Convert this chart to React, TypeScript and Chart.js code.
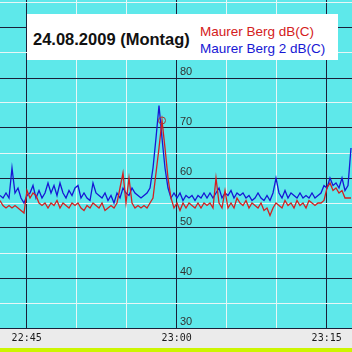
import React, { useEffect, useRef } from "react";
import { Chart, registerables } from "chart.js";

Chart.register(...registerables);

// minutes after 22:00
const START_MIN = 42 + 1 / 3;
const STEP_MIN = 0.3;
const X_MIN = 42 + 1 / 3;
const X_MAX = 42 + 1 / 3 + 35.2;

const redLabel = "Maurer Berg dB(C)";
const blueLabel = "Maurer Berg 2 dB(C)";
const titleText = "24.08.2009 (Montag)";

const redValues = [
  55.5, 54.5, 54, 54.5, 54, 54.5, 54, 53.5, 53, 57.5,
  56, 57, 56.5, 55, 54.5, 55, 54, 55, 54.5, 55.5,
  54, 55, 54.5, 54, 55, 54.5, 55, 54, 53.5, 54.5,
  54, 55, 54.5, 54, 55, 53.5, 54, 54.5, 54, 55,
  58, 61, 55, 60, 55, 54, 54.5, 54, 54.5, 54,
  55, 56, 61, 66, 71.5, 66, 60, 56, 54, 55,
  53.5, 55, 54, 55, 54.5, 54, 55, 54, 55, 54.5,
  55, 54, 60, 55, 54, 57.5, 54, 55, 54, 56,
  55, 54.5, 55.5, 54, 55, 54.5, 54, 55, 53.5, 54,
  52.5, 54, 55, 54.5, 54, 55.5, 54.5, 55, 54, 55.5,
  54.5, 55, 54, 55.5, 55, 54.5, 55, 55, 55.5, 58,
  59, 57.5, 58, 57, 57.5, 56, 56, 56,
];

const blueValues = [
  56.5, 56, 57, 56, 62, 57, 58, 56, 55, 56.5,
  57, 58.5, 56, 57.5, 56, 57, 59, 57, 58.5, 56.5,
  59, 57, 56, 57.5, 56.5, 58, 58.5, 56, 57, 56,
  55.5, 59, 57, 56.5, 56, 57, 55.5, 56.5, 55, 57,
  56, 58, 57, 56.5, 58, 57, 56.5, 56, 56.5, 57,
  58, 62, 68, 74.5, 68, 62, 58, 56, 57, 56,
  57, 55.5, 56.5, 56, 56.5, 55.5, 56.5, 56, 57, 56,
  57, 56, 57, 58, 56, 57, 56.5, 57.5, 56, 57,
  56.5, 57, 56, 56.5, 55.5, 56, 57, 56, 55.5, 56.5,
  55.5, 57, 60, 57, 56, 57.5, 56, 57, 56.5, 56,
  57, 56, 56.5, 56, 57, 56, 56.5, 57, 58.5, 58,
  60, 58.5, 59, 58, 60, 57.5, 58.5, 66,
];

const markerIndex = 54;

const xGridTicks = [45, 50, 55, 60, 65, 70, 75];
const xTickLabels: Record<number, string> = { 45: "22:45", 60: "23:00", 75: "23:15" };
const yGridTicks = [30, 35, 40, 45, 50, 55, 60, 65, 70, 75, 80, 85, 90, 95];
const yTickLabels = [30, 40, 50, 60, 70, 80, 90];

const BG_CYAN = "#5ee8ea";
const STRIP_GRAY = "#ebebeb";
const DARK_GRID = "#1b1f3a";
const LIGHT_GRID = "#e8f6f6";
const RED = "#d42020";
const BLUE = "#1717d4";

const bgPlugin = {
  id: "bgPlugin",
  beforeDraw(chart: any) {
    const { ctx, chartArea, width, height } = chart;
    ctx.save();
    ctx.fillStyle = STRIP_GRAY;
    ctx.fillRect(0, 0, width, height);
    ctx.fillStyle = BG_CYAN;
    ctx.fillRect(chartArea.left, chartArea.top, chartArea.right - chartArea.left, chartArea.bottom - chartArea.top);
    ctx.restore();
  },
};

function toPoints(values: number[]) {
  return values.map((v, i) => ({ x: START_MIN + i * STEP_MIN, y: v }));
}

export default function App() {
  const canvasRef = useRef<HTMLCanvasElement | null>(null);

  useEffect(() => {
    if (!canvasRef.current) return;
    const chart = new Chart(canvasRef.current, {
      type: "line",
      data: {
        datasets: [
          {
            label: redLabel,
            data: toPoints(redValues),
            borderColor: RED,
            borderWidth: 1.3,
            tension: 0,
            fill: false,
            pointRadius: (c: any) => (c.dataIndex === markerIndex ? 3.5 : 0),
            pointBorderColor: "#a03a3a",
            pointBackgroundColor: "rgba(0,0,0,0)",
            pointBorderWidth: 1,
          },
          {
            label: blueLabel,
            data: toPoints(blueValues),
            borderColor: BLUE,
            borderWidth: 1.3,
            tension: 0,
            fill: false,
            pointRadius: 0,
          },
        ],
      },
      options: {
        animation: false,
        responsive: false,
        devicePixelRatio: 1,
        layout: { padding: 0 },
        plugins: {
          legend: { display: false },
          title: { display: false },
          tooltip: { enabled: false },
        },
        scales: {
          x: {
            type: "linear",
            position: "bottom",
            min: X_MIN,
            max: X_MAX,
            afterBuildTicks: (scale: any) => {
              scale.ticks = xGridTicks.map((v) => ({ value: v }));
            },
            afterFit: (scale: any) => {
              scale.height = 20;
              scale.paddingLeft = 0;
              scale.paddingRight = 0;
            },
            border: { display: false },
            grid: {
              drawTicks: false,
              tickLength: 0,
              lineWidth: 1,
              color: (c: any) => {
                const v = c.tick ? c.tick.value : 0;
                return v % 15 === 0 ? DARK_GRID : LIGHT_GRID;
              },
            },
            ticks: {
              autoSkip: false,
              maxRotation: 0,
              minRotation: 0,
              padding: 4,
              color: "#1a1a1a",
              font: { family: "'DejaVu Sans Mono', monospace", size: 10 },
              callback: (v: any) => xTickLabels[Number(v)] ?? "",
            },
          },
          y: {
            type: "linear",
            position: "left",
            min: 30,
            max: 95.6,
            afterBuildTicks: (scale: any) => {
              scale.ticks = yGridTicks.map((v) => ({ value: v }));
            },
            afterFit: (scale: any) => {
              scale.width = 0;
              scale.paddingTop = 0;
              scale.paddingBottom = 0;
              scale.paddingLeft = 0;
              scale.paddingRight = 0;
            },
            border: { display: false },
            grid: {
              drawTicks: false,
              tickLength: 0,
              lineWidth: 1,
              color: (c: any) => {
                const v = c.tick ? c.tick.value : 0;
                return v % 10 === 0 ? DARK_GRID : LIGHT_GRID;
              },
            },
            ticks: {
              mirror: true,
              padding: 180,
              labelOffset: -6,
              color: "#333333",
              font: { family: "'Liberation Sans', Arial, sans-serif", size: 11 },
              callback: (v: any) => (yTickLabels.includes(Number(v)) ? String(v) : ""),
            },
          },
        },
      },
      plugins: [bgPlugin],
    } as any);
    return () => chart.destroy();
  }, []);

  return (
    <div style={{ position: "relative", width: 352, height: 352, overflow: "hidden", background: STRIP_GRAY }}>
      <style>{`body{margin:0;}`}</style>
      <canvas ref={canvasRef} width={352} height={348} style={{ display: "block", width: 352, height: 348 }} />
      <div style={{ position: "absolute", left: 0, top: 348, width: 352, height: 4, background: "#ccf500" }} />
      <div
        style={{
          position: "absolute",
          left: 27,
          top: 14,
          width: 311,
          height: 46,
          background: "#ffffff",
          fontFamily: "'Liberation Sans', Arial, sans-serif",
        }}
      >
        <div
          style={{
            position: "absolute",
            left: 6,
            top: 15,
            fontSize: 16.5,
            fontWeight: "bold",
            color: "#111111",
            lineHeight: "20px",
            whiteSpace: "nowrap",
          }}
        >
          {titleText}
        </div>
        <div
          style={{
            position: "absolute",
            left: 173,
            top: 9,
            fontSize: 13.5,
            color: RED,
            lineHeight: "17px",
            whiteSpace: "nowrap",
          }}
        >
          {redLabel}
        </div>
        <div
          style={{
            position: "absolute",
            left: 173,
            top: 26,
            fontSize: 13.5,
            color: BLUE,
            lineHeight: "17px",
            whiteSpace: "nowrap",
          }}
        >
          {blueLabel}
        </div>
      </div>
    </div>
  );
}
